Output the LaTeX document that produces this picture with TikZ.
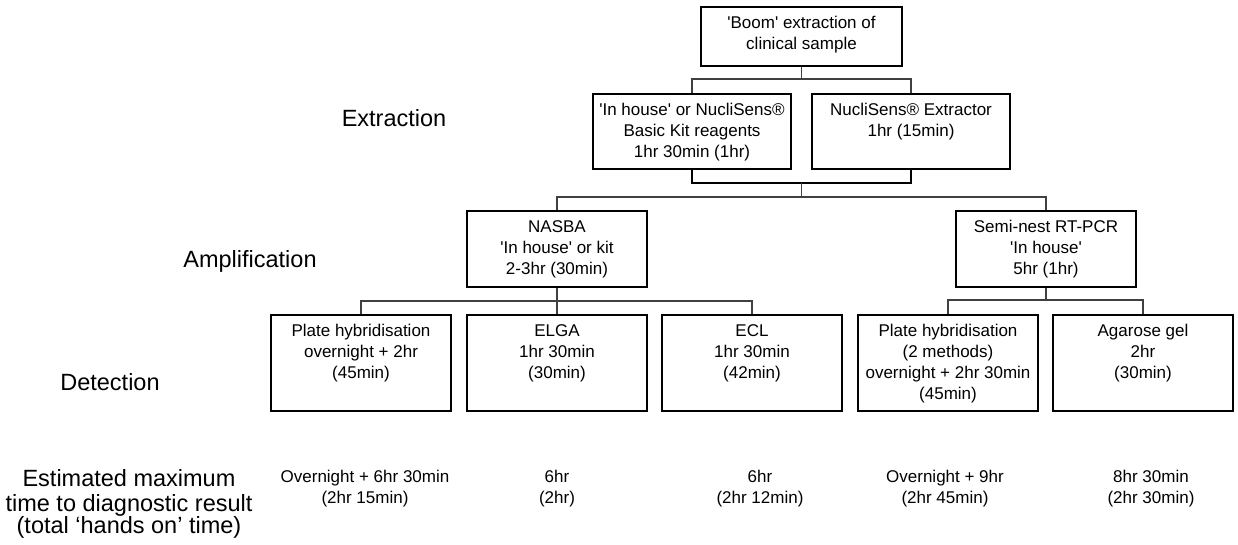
\documentclass[tikz,border=0pt]{standalone}
\usepackage{fontspec}
\setmainfont{Liberation Sans}
\usetikzlibrary{calc}
\newcommand{\sq}{\textquotesingle}
\begin{document}
\begin{tikzpicture}[x=1pt,y=-1pt,
  boxnode/.style={draw=black,line width=2.6pt,rectangle,inner sep=0pt,fill=white},
  boxtext/.style={anchor=north,inner sep=0pt,align=center,font=\fontsize{17}{21}\selectfont},
  lbl/.style={anchor=base,inner sep=0pt,font=\fontsize{23.5}{22.5}\selectfont},
  biglbl/.style={anchor=north,inner sep=0pt,align=center,font=\fontsize{23.5}{22.5}\selectfont},
  est/.style={anchor=north,inner sep=0pt,align=center,font=\fontsize{17}{21}\selectfont},
  conn/.style={draw=black!75,line width=1.3pt},
  bracket/.style={draw=black,line width=2.6pt}]
\useasboundingbox (0,0) rectangle (1238,544);

% boxes
\node[boxnode,minimum width=201pt,minimum height=59pt] (top) at (801.5,36.5) {};
\node[boxnode,minimum width=198pt,minimum height=75pt] (ext1) at (692,131.5) {};
\node[boxnode,minimum width=198pt,minimum height=75pt] (ext2) at (911,131.5) {};
\node[boxnode,minimum width=180pt,minimum height=76pt] (nasba) at (557,249) {};
\node[boxnode,minimum width=180pt,minimum height=76pt] (pcr) at (1046,249) {};
\node[boxnode,minimum width=180pt,minimum height=96pt] (det1) at (361,363) {};
\node[boxnode,minimum width=180pt,minimum height=96pt] (det2) at (557,363) {};
\node[boxnode,minimum width=180pt,minimum height=96pt] (det3) at (752,363) {};
\node[boxnode,minimum width=180pt,minimum height=96pt] (det4) at (948,363) {};
\node[boxnode,minimum width=180pt,minimum height=96pt] (det5) at (1143,363) {};

% box texts
\node[boxtext] (toptxt) at ($(top.north)+(0,7.5)$) {\strut\sq Boom\sq{} extraction of\\clinical sample};
\node[boxtext] (ext1txt) at ($(ext1.north)+(0,7.5)$) {\strut\sq In house\sq{} or NucliSens®\\Basic Kit reagents\\1hr 30min (1hr)};
\node[boxtext] (ext2txt) at ($(ext2.north)+(0,7.5)$) {\strut NucliSens® Extractor\\1hr (15min)};
\node[boxtext] (nasbatxt) at ($(nasba.north)+(0,7.5)$) {\strut NASBA\\\sq In house\sq{} or kit\\2-3hr (30min)};
\node[boxtext] (pcrtxt) at ($(pcr.north)+(0,7.5)$) {\strut Semi-nest RT-PCR\\\sq In house\sq\\5hr (1hr)};
\node[boxtext] (det1txt) at ($(det1.north)+(0,7.5)$) {\strut Plate hybridisation\\overnight + 2hr\\(45min)};
\node[boxtext] (det2txt) at ($(det2.north)+(0,7.5)$) {\strut ELGA\\1hr 30min\\(30min)};
\node[boxtext] (det3txt) at ($(det3.north)+(0,7.5)$) {\strut ECL\\1hr 30min\\(42min)};
\node[boxtext] (det4txt) at ($(det4.north)+(0,7.5)$) {\strut Plate hybridisation\\(2 methods)\\overnight + 2hr 30min\\(45min)};
\node[boxtext] (det5txt) at ($(det5.north)+(0,7.5)$) {\strut Agarose gel\\2hr\\(30min)};

% connectors
\coordinate (j1) at (801.5,79);
\coordinate (j2) at (801.5,183);
\coordinate (j3) at (801.5,197);
\coordinate (j4) at (557,301);
\coordinate (j5) at (1046,300);
\draw[conn] (top.south) -- (j1);
\draw[conn] (ext1.north) |- (j1) -| (ext2.north);
\draw[bracket] (ext1.south) |- (j2) -| (ext2.south);
\draw[conn] (j2) -- (j3);
\draw[conn] (nasba.north) |- (j3) -| (pcr.north);
\draw[conn] (nasba.south) -- (det2.north);
\draw[conn] (det1.north) |- (j4) -| (det3.north);
\draw[conn] (pcr.south) -- (j5);
\draw[conn] (det4.north) |- (j5) -| (det5.north);

% row labels
\node[lbl] (lext) at (394,126) {Extraction};
\node[lbl] (lamp) at (250,267) {Amplification};
\node[lbl] (ldet) at (110,390) {Detection};
\node[biglbl] (lest) at (129,469) {\strut Estimated maximum\\time to diagnostic result\\(total ‘hands on’ time)};

% estimated times
\node[est] (e1) at (365,467.5) {\strut Overnight + 6hr 30min\\(2hr 15min)};
\node[est] (e2) at (557,467.5) {\strut 6hr\\(2hr)};
\node[est] (e3) at (760,467.5) {\strut 6hr\\(2hr 12min)};
\node[est] (e4) at (945,467.5) {\strut Overnight + 9hr\\(2hr 45min)};
\node[est] (e5) at (1151,467.5) {\strut 8hr 30min\\(2hr 30min)};
\end{tikzpicture}
\end{document}
